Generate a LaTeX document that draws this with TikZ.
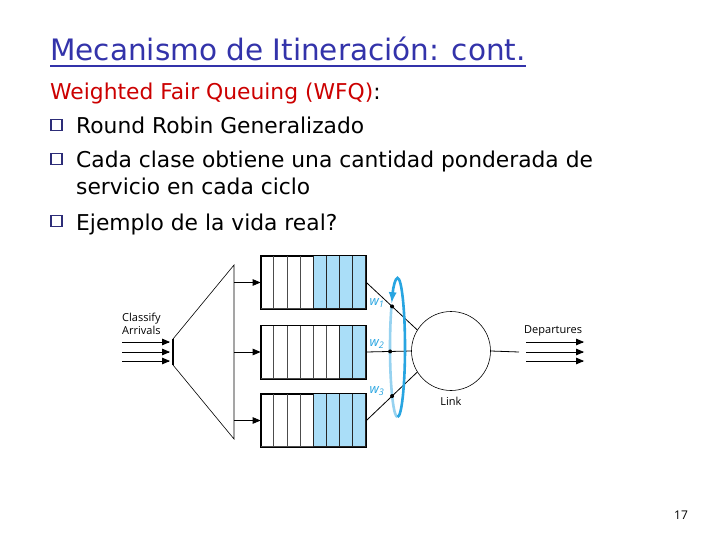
\documentclass[tikz,border=0pt]{standalone}
\usepackage{fontspec}
\setmainfont{DejaVu Sans}
\newfontfamily\figfont{Open Sans}
\usetikzlibrary{arrows,positioning}
\definecolor{titleblue}{RGB}{51,51,170}
\definecolor{wfqred}{RGB}{204,0,0}
\definecolor{bulletblue}{RGB}{45,45,120}
\definecolor{cellblue}{RGB}{170,222,248}
\definecolor{ringblue}{RGB}{40,165,225}
\definecolor{ringlight}{RGB}{150,210,240}
\tikzset{
  queue/.style={draw,line width=0.8pt,minimum width=105pt,minimum height=53pt,inner sep=0pt},
  cell/.style={draw=black!70,line width=0.6pt},
  arr/.style={->,>=triangle 45,line width=0.8pt},
  bulletbox/.style={draw=bulletblue,line width=1.5pt,minimum size=11pt,inner sep=0pt},
  wdot/.style={circle,fill=black,inner sep=0pt,minimum size=4pt},
  wlab/.style={text=ringblue,font=\figfont\itshape\fontsize{13}{13}\selectfont},
  figtext/.style={font=\figfont\fontsize{11}{13}\selectfont},
  slidetext/.style={anchor=base west,inner sep=0pt,font=\fontsize{21.8}{24}\selectfont},
}

\begin{document}
\begin{tikzpicture}[x=1pt,y=-1pt]
  \useasboundingbox[fill=white] (0,0) rectangle (720,540);

  % slide text
  \node[slidetext,text=titleblue,font=\fontsize{29.5}{32}\selectfont] (title) at (50,61)
    {Mecanismo de Itineración: cont.};
  \draw[titleblue,line width=1.6pt] ([yshift=-5pt]title.base west) -- ([yshift=-5pt]title.base east);
  \node[slidetext] (wfq) at (50,100) {\textcolor{wfqred}{Weighted Fair Queuing (WFQ)}:};
  \node[bulletbox] (b1) at (56.5,125) {};
  \node[slidetext] (t1) at (76,134) {Round Robin Generalizado};
  \node[bulletbox] (b2) at (56.5,159) {};
  \node[slidetext] (t2) at (76,168) {Cada clase obtiene una cantidad ponderada de};
  \node[slidetext] (t3) at (76,195) {servicio en cada ciclo};
  \node[bulletbox] (b3) at (56.5,221) {};
  \node[slidetext] (t4) at (76,230) {Ejemplo de la vida real?};

  % classifier
  \coordinate (cl-top) at (234,265);
  \coordinate (cl-bot) at (234,439);
  \draw[line width=0.6pt] (cl-top) -- (173,339) -- (173,365) -- (cl-bot) -- cycle;
  \draw[line width=1.2pt] (173,339) -- (173,365);
  \foreach \y in {342,352,361} {
    \coordinate (in\y) at (122,\y);
    \draw[arr] (in\y) -- (170,\y);
  }
  \node[figtext,align=left,anchor=south west,inner sep=0pt] (arrivals) at (122,335) {Classify\\Arrivals};

  % queues
  \foreach \q/\yc/\nb in {1/282.5/4,2/352/2,3/420.5/4} {
    \node[queue] (q\q) at (313.5,\yc) {};
    \pgfmathtruncatemacro\nw{8-\nb}
    \pgfmathtruncatemacro\nf{\nw+1}
    \foreach \c in {1,...,\nw}
      \draw[cell] ([xshift={(\c-1)*13.125pt}]q\q.north west) rectangle ++(13.125,53);
    \foreach \c in {\nf,...,8}
      \draw[cell,draw=black!85,fill=cellblue] ([xshift={(\c-1)*13.125pt}]q\q.north west) rectangle ++(13.125,53);
    \draw[line width=0.8pt] (q\q.north west) rectangle (q\q.south east);
    \draw[arr] (q\q.west -| cl-top) -- (q\q.west);
  }

  % link
  \node[draw,circle,minimum size=79pt,inner sep=0pt,line width=0.6pt] (link) at (451,351) {};
  \node[figtext,below=3pt of link] (linklab) {Link};
  \coordinate (rr) at (397.5,347.5);
  \draw[ringlight,line width=2.6pt] ([shift={(142:7.5pt and 69.5pt)}]rr)
    arc[start angle=142,end angle=270,x radius=7.5pt,y radius=69.5pt];
  \draw[line width=0.8pt] (q1.east) -- (link.148) node[wdot,pos=0.505] (d1) {};
  \draw[line width=0.8pt] (q2.east) -- (link.west) node[wdot,pos=0.53] (d2) {};
  \draw[line width=0.8pt] (q3.east) -- (link.212) node[wdot,pos=0.505] (d3) {};
  \draw[ringblue,line width=2.6pt,-latex] ([shift={(270:7.5pt and 69.5pt)}]rr)
    arc[start angle=270,end angle=500,x radius=7.5pt,y radius=69.5pt];
  \node[wlab] (w1) at (377,303) {w\textsubscript{1}};
  \node[wlab] (w2) at (377,344) {w\textsubscript{2}};
  \node[wlab] (w3) at (377,391) {w\textsubscript{3}};

  % departures
  \coordinate (out) at (519,352);
  \draw[line width=0.8pt] (link.east) -- (out);
  \foreach \y in {342,352,361} {
    \coordinate (dep\y) at (526,\y);
    \draw[arr] (dep\y) -- (584,\y);
  }
  \node[figtext,anchor=south west,inner sep=0pt] (departures) at (524,336) {Departures};

  \node[font=\figfont\fontsize{12}{12}\selectfont] (page) at (681,515) {17};
\end{tikzpicture}
\end{document}
